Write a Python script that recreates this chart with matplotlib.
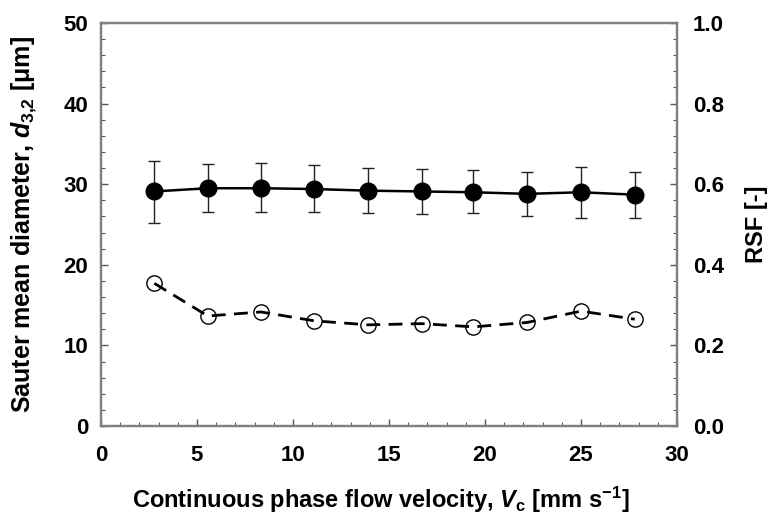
import matplotlib
matplotlib.use("Agg")
import matplotlib.pyplot as plt
from matplotlib.ticker import MultipleLocator, FormatStrFormatter
import numpy as np

plt.rcParams['font.family'] = ['Liberation Sans', 'DejaVu Sans']
plt.rcParams['font.weight'] = 'bold'
plt.rcParams['mathtext.fontset'] = 'custom'
plt.rcParams['mathtext.rm'] = 'Liberation Sans:bold'
plt.rcParams['mathtext.bf'] = 'Liberation Sans:bold'
plt.rcParams['mathtext.it'] = 'Liberation Sans:italic:bold'

# Data
velocity = [2.78, 5.56, 8.33, 11.1, 13.9, 16.7, 19.4, 22.2, 25.0, 27.8]
d32 = [29.1, 29.5, 29.5, 29.4, 29.2, 29.1, 29.0, 28.8, 29.0, 28.7]
d32_upper = [32.9, 32.5, 32.6, 32.4, 32.0, 31.9, 31.8, 31.5, 32.1, 31.5]
d32_lower = [25.2, 26.6, 26.6, 26.6, 26.4, 26.3, 26.4, 26.0, 25.8, 25.8]
rsf = [0.354, 0.273, 0.283, 0.261, 0.251, 0.254, 0.246, 0.257, 0.285, 0.265]

fig = plt.figure(figsize=(7.69, 5.18), dpi=100)
ax = fig.add_axes([0.1313, 0.1776, 0.7491, 0.7780])
ax2 = ax.twinx()

err_lo = np.array(d32) - np.array(d32_lower)
err_hi = np.array(d32_upper) - np.array(d32)
ax.errorbar(velocity, d32, yerr=[err_lo, err_hi], fmt='o-', color='black',
            ms=12, lw=1.8, elinewidth=1.0, capsize=4.5, capthick=1.0,
            ecolor='#222222', zorder=3)

ax2.plot(velocity, rsf, linestyle=(0, (5, 3)), color='black', lw=2.0,
         marker='o', ms=11, mfc='none', mec='black', mew=1.0, zorder=3)

frame = '#808080'
for a in (ax, ax2):
    for s in a.spines.values():
        s.set_color(frame)
        s.set_linewidth(1.6)

ax.set_xlim(0, 30)
ax.set_ylim(0, 50)
ax2.set_ylim(0, 1.0)
ax.xaxis.set_major_locator(MultipleLocator(5))
ax.xaxis.set_minor_locator(MultipleLocator(1))
ax.yaxis.set_major_locator(MultipleLocator(10))
ax.yaxis.set_minor_locator(MultipleLocator(2))
ax2.yaxis.set_major_locator(MultipleLocator(0.2))
ax2.yaxis.set_minor_locator(MultipleLocator(0.04))
ax2.yaxis.set_major_formatter(FormatStrFormatter('%.1f'))

ax.tick_params(axis='both', which='both', direction='in', color='#555555',
               labelsize=16, top=False)
ax.tick_params(which='major', length=5, width=1.0)
ax.tick_params(which='minor', length=3, width=0.8)
ax.tick_params(axis='y', which='both', right=False, pad=9)
ax.tick_params(axis='x', which='both', pad=14)
ax2.tick_params(axis='y', which='both', direction='in', color='#555555',
                labelsize=16, pad=11.5)
ax2.tick_params(which='major', length=5, width=1.0)
ax2.tick_params(which='minor', length=3, width=0.8)

ax.set_xlabel(r'Continuous phase flow velocity, $V_{\mathrm{c}}$ [mm s$^{\mathrm{-1}}$]',
              fontsize=17, fontweight='bold', va='top')
ax.xaxis.set_label_coords(0.486, -0.146)
ax.set_ylabel(r'Sauter mean diameter, $d_{\mathrm{3{,}2}}$ [μm]', fontsize=18,
              fontweight='bold')
ax.yaxis.set_label_coords(-0.108, 0.5)
ax2.set_ylabel('RSF [-]', fontsize=17, fontweight='bold')
ax2.yaxis.set_label_coords(1.118, 0.5)

fig.savefig('out.png', dpi=100)
